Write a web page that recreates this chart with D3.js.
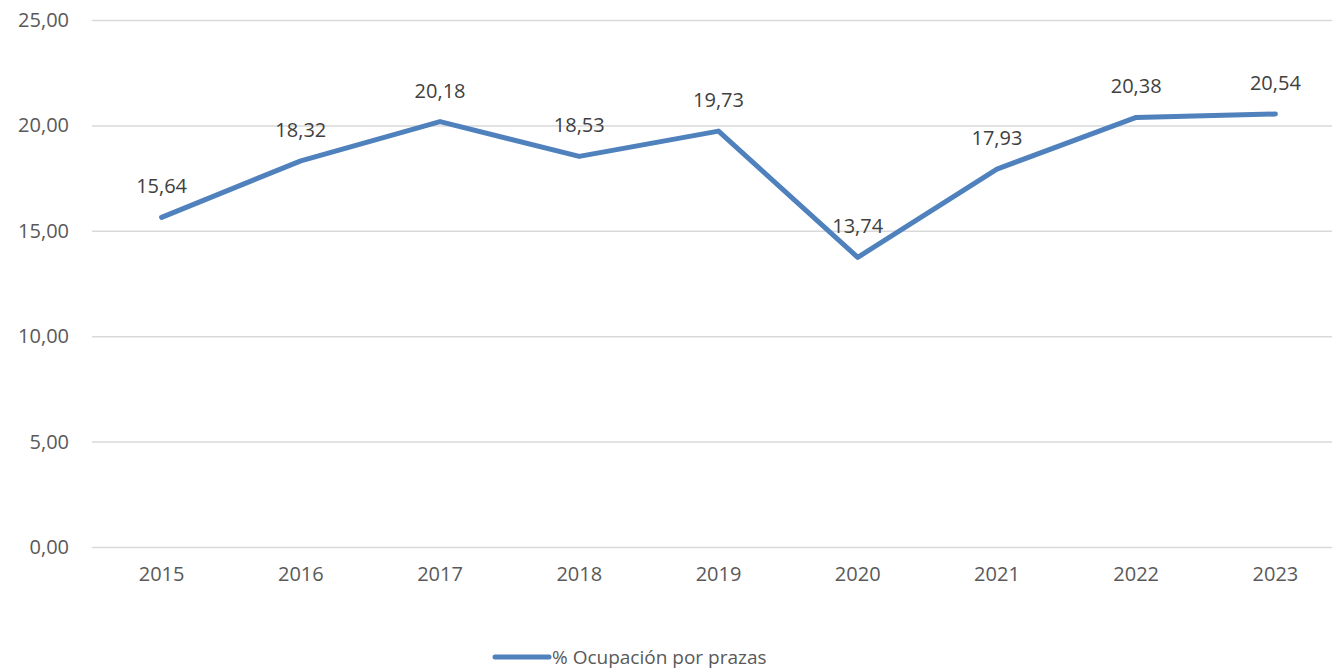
<!DOCTYPE html>
<html>
<head>
<meta charset="utf-8">
<script src="https://cdn.jsdelivr.net/npm/d3@7"></script>
<style>
	body { margin: 0; background: #fff; }
	svg text { font-family: "Open Sans", sans-serif; }
</style>
</head>
<body>
<div class="chart"></div>
<script>
const years = ['2015', '2016', '2017', '2018', '2019', '2020', '2021', '2022', '2023'];
const ocupacion = [15.64, 18.32, 20.18, 18.53, 19.73, 13.74, 17.93, 20.38, 20.54];
const yTicks = [0, 5, 10, 15, 20, 25];
const seriesName = '% Ocupación por prazas';

const width = 1332;
const height = 670;
const margin = {top: 20, right: -13, bottom: 123, left: 92};
const plotW = width - margin.left - margin.right;
const plotH = height - margin.top - margin.bottom;

const fmt = v => d3.format('.2f')(v).replace('.', ',');

const svg = d3.select('.chart')
	.append('svg')
	.attr('width', width)
	.attr('height', height);

const g = svg.append('g')
	.attr('transform', `translate(${margin.left}, ${margin.top})`);

/* SCALES */
const xScale = d3.scaleBand()
	.domain(years)
	.range([0, plotW]);

const yScale = d3.scaleLinear()
	.domain([0, 25])
	.range([plotH, 0]);

/* Y AXIS + GRID */
const yAxis = d3.axisLeft(yScale)
	.tickValues(yTicks)
	.tickSize(-plotW)
	.tickPadding(23)
	.tickFormat(fmt);

g.append('g')
	.call(yAxis)
	.call(ax => ax.select('.domain').remove())
	.call(ax => ax.selectAll('line').attr('stroke', '#d9d9d9').attr('stroke-width', 1.5))
	.call(ax => ax.selectAll('text').attr('fill', '#595959').attr('font-size', 20));

/* X AXIS */
const xAxis = d3.axisBottom(xScale).tickSize(0).tickPadding(20);

g.append('g')
	.attr('transform', `translate(0, ${plotH})`)
	.call(xAxis)
	.call(ax => ax.select('.domain').remove())
	.call(ax => ax.selectAll('text').attr('fill', '#595959').attr('font-size', 20));

/* LINE */
const cx = d => xScale(d) + xScale.bandwidth() / 2;
const line = d3.line()
	.x((d, i) => cx(years[i]))
	.y(d => yScale(d));

g.append('path')
	.datum(ocupacion)
	.attr('fill', 'none')
	.attr('stroke', '#4f81bd')
	.attr('stroke-width', 5)
	.attr('stroke-linejoin', 'round')
	.attr('stroke-linecap', 'round')
	.attr('d', line);

/* DATA LABELS */
g.selectAll('.label')
	.data(ocupacion)
	.enter()
	.append('text')
	.attr('class', 'label')
	.attr('x', (d, i) => cx(years[i]))
	.attr('y', d => yScale(d) - 24)
	.attr('text-anchor', 'middle')
	.attr('fill', '#404040')
	.attr('font-size', 20)
	.text(fmt);

/* LEGEND */
const legend = svg.append('g').attr('transform', 'translate(495, 657)');
legend.append('line')
	.attr('x1', 0).attr('x2', 54)
	.attr('stroke', '#4f81bd')
	.attr('stroke-width', 5)
	.attr('stroke-linecap', 'round');
legend.append('text')
	.attr('x', 57)
	.attr('dy', '0.35em')
	.attr('fill', '#595959')
	.attr('font-size', 19)
	.text(seriesName);
</script>
</body>
</html>
